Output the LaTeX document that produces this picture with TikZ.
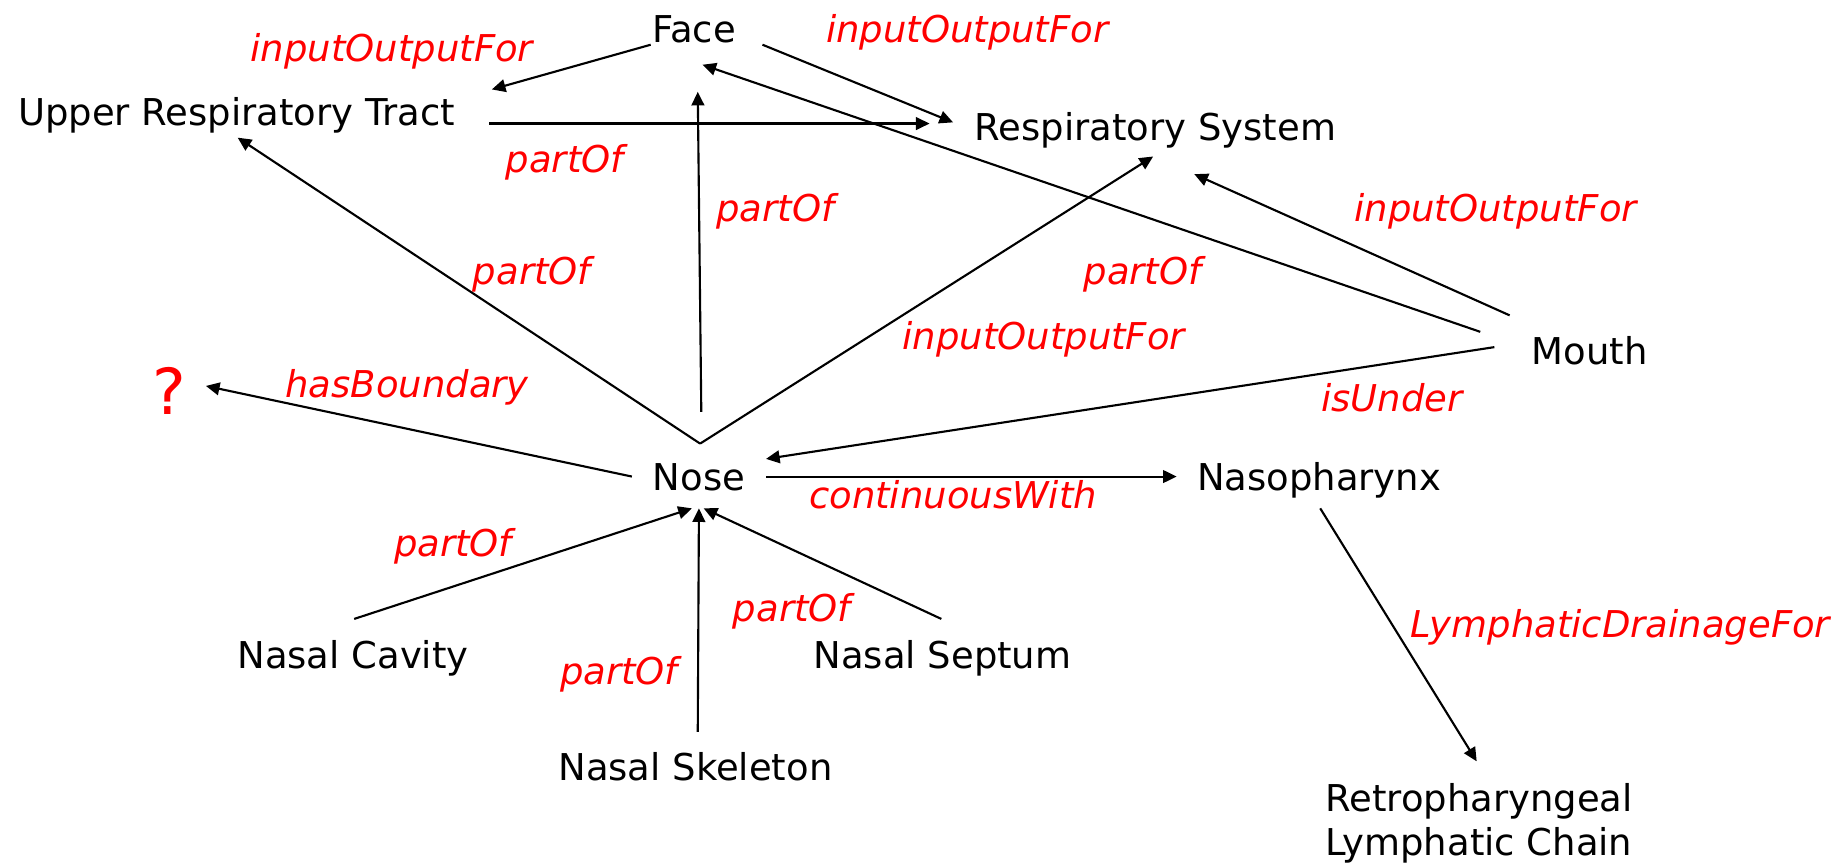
\documentclass[tikz,border=0pt]{standalone}
\usepackage{fontspec}
\setmainfont{DejaVu Sans}
\usetikzlibrary{arrows.meta,calc}
\begin{document}
\begin{tikzpicture}[x=0.5pt,y=-0.5pt,
  concept/.style={inner sep=0pt, anchor=base, font=\fontsize{15.7}{19}\selectfont},
  rel/.style={inner sep=0pt, anchor=base, text=red, font=\fontsize{15.7}{19}\selectfont\itshape},
  qmark/.style={inner sep=0pt, anchor=base, text=red, font=\fontsize{27}{30}\selectfont},
  link/.style={line width=0.9pt, -{Triangle[length=5.8pt,width=5.4pt]}}]
\useasboundingbox (0,0) rectangle (1568,735);

% concepts
\node[concept] (face)  at (590,36)   {Face};
\node[concept] (urt)   at (201,107)  {Upper Respiratory Tract};
\node[concept] (rs)    at (982,119)  {Respiratory System};
\node[concept] (mouth) at (1351,310) {Mouth};
\node[concept] (nose)  at (594,417)  {Nose};
\node[concept] (naso)  at (1121,417) {Nasopharynx};
\node[concept] (nc)    at (300,568)  {Nasal Cavity};
\node[concept] (nse)   at (801,568)  {Nasal Septum};
\node[concept] (nsk)   at (591,663)  {Nasal Skeleton};
\node[concept, anchor=north west, align=left] (retro) at (1126,665)
  {Retropharyngeal\\Lymphatic Chain};
\node[qmark] (unknown) at (144,352) {?};

% relation names
\node[rel] (r1)  at (333,52)   {inputOutputFor};
\node[rel] (r2)  at (822,36)   {inputOutputFor};
\node[rel] (r3)  at (480,147)  {partOf};
\node[rel] (r4)  at (659,188)  {partOf};
\node[rel] (r5)  at (1271,188) {inputOutputFor};
\node[rel] (r6)  at (452,242)  {partOf};
\node[rel] (r7)  at (971,242)  {partOf};
\node[rel] (r8)  at (887,297)  {inputOutputFor};
\node[rel] (r9)  at (346,338)  {hasBoundary};
\node[rel] (r10) at (1183,350) {isUnder};
\node[rel] (r11) at (810,432)  {continuousWith};
\node[rel] (r12) at (385,473)  {partOf};
\node[rel] (r13) at (673,528)  {partOf};
\node[rel] (r14) at (1377,542) {LymphaticDrainageFor};
\node[rel] (r15) at (526,582)  {partOf};

% connectors
\draw[link] ($(face.base)+(-37,2)$)   -- ($(urt.base)+(217,-31)$);
\draw[link] ($(face.base)+(58,2)$)    -- ($(rs.base)+(-172,-15)$);
\draw[link] ($(urt.base)+(215,-2)$)   -- ($(rs.base)+(-192,-14)$);
\draw[link] ($(nose.base)+(1,-40)$)   -- ($(urt.base)+(1,10)$);
\draw[link] ($(nose.base)+(2,-67)$)   -- ($(face.base)+(3,42)$);
\draw[link] ($(nose.base)+(1,-40)$)   -- ($(rs.base)+(-2,14)$);
\draw[link] ($(mouth.base)+(-93,-28)$) -- ($(face.base)+(7,19)$);
\draw[link] ($(mouth.base)+(-68,-42)$) -- ($(rs.base)+(33,29)$);
\draw[link] ($(mouth.base)+(-81,-15)$) -- ($(nose.base)+(57,-27)$);
\draw[link] ($(nose.base)+(-57,-12)$) -- ($(unknown.base)+(31,-24)$);
\draw[link] ($(nose.base)+(57,-12)$)  -- ($(naso.base)+(-121,-12)$);
\draw[link] ($(naso.base)+(1,15)$)    -- ($(retro.north)+(-2,-18)$);
\draw[link] ($(nc.base)+(1,-42)$)     -- ($(nose.base)+(-6,15)$);
\draw[link] ($(nsk.base)+(2,-41)$)    -- ($(nose.base)+(0,15)$);
\draw[link] ($(nse.base)+(-1,-42)$)   -- ($(nose.base)+(4,15)$);
\end{tikzpicture}
\end{document}
